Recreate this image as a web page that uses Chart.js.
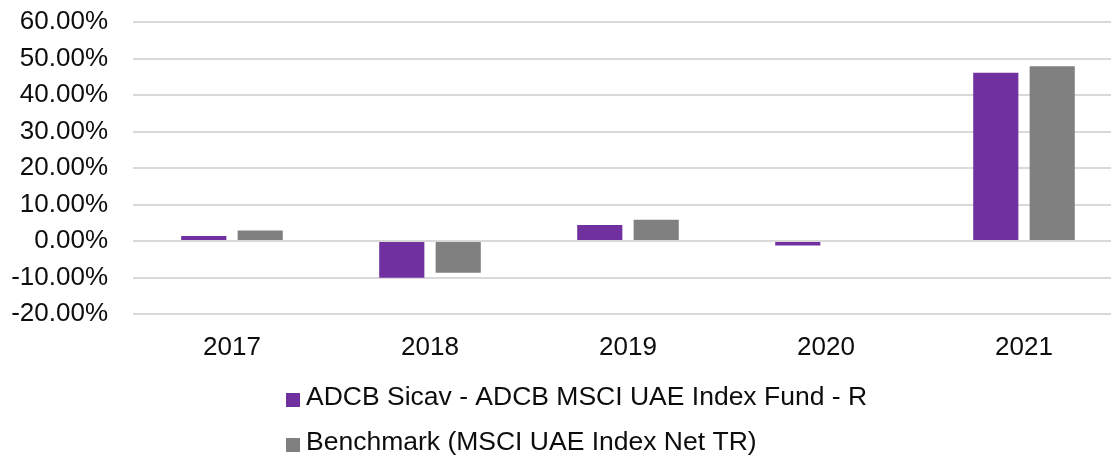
<!DOCTYPE html>
<html>
<head>
<meta charset="utf-8">
<script src="https://cdn.jsdelivr.net/npm/chart.js@4"></script>
<style>
  html, body { margin: 0; padding: 0; background: #fff; overflow: hidden; }
  #wrap { width: 1111px; height: 459px; overflow: hidden; }
</style>
</head>
<body>
<div id="wrap"><canvas id="returnsChart" width="1125" height="459"></canvas></div>
<script>
// Data
const years = ['2017', '2018', '2019', '2020', '2021'];
const fundReturns = [1.4, -10.1, 4.4, -1.2, 46.1];
const benchmarkReturns = [2.9, -8.7, 5.8, 0, 47.9];
const seriesNames = ['ADCB Sicav - ADCB MSCI UAE Index Fund - R', 'Benchmark (MSCI UAE Index Net TR)'];
const yTicks = [-20, -10, 0, 10, 20, 30, 40, 50, 60];

const FONT = "'Liberation Sans', Arial, sans-serif";
const textColor = '#0d0d0d';

// Stacked legend drawn below the axis (Excel style)
const stackedLegend = {
    id: 'stackedLegend',
    afterDraw(chart) {
        const ctx = chart.ctx;
        const x0 = 286;
        const rows = [397, 442];
        ctx.save();
        ctx.font = '26.5px ' + FONT;
        ctx.textBaseline = 'middle';
        chart.data.datasets.forEach((ds, i) => {
            const y = rows[i];
            ctx.fillStyle = ds.backgroundColor;
            ctx.fillRect(x0, y - 4, 14, 14);
            ctx.fillStyle = textColor;
            ctx.fillText(ds.label, x0 + 20, y + 1);
        });
        ctx.restore();
    }
};

const ctx = document.getElementById('returnsChart').getContext('2d');
new Chart(ctx, {
    type: 'bar',
    data: {
        labels: years,
        datasets: [
            { label: seriesNames[0], data: fundReturns, backgroundColor: '#7030A0' },
            { label: seriesNames[1], data: benchmarkReturns, backgroundColor: '#808080' }
        ]
    },
    options: {
        responsive: false,
        animation: false,
        devicePixelRatio: 1,
        layout: { padding: { top: 22, right: 2, bottom: 95, left: 0 } },
        datasets: {
            bar: { categoryPercentage: 0.57, barPercentage: 0.8 }
        },
        plugins: {
            legend: { display: false },
            tooltip: { enabled: false }
        },
        scales: {
            x: {
                grid: { display: false, drawTicks: false },
                border: { display: false },
                ticks: { color: textColor, font: { family: FONT, size: 26 }, padding: 18, maxRotation: 0 },
                afterFit(scale) { scale.height = 50; }
            },
            y: {
                min: yTicks[0],
                max: yTicks[yTicks.length - 1],
                afterBuildTicks(scale) { scale.ticks = yTicks.map(v => ({ value: v })); },
                grid: { color: '#d9d9d9', lineWidth: 2, drawTicks: false },
                border: { display: false },
                ticks: {
                    autoSkip: false,
                    color: textColor,
                    font: { family: FONT, size: 26 },
                    padding: 25,
                    callback: v => v.toFixed(2) + '%'
                },
                afterFit(scale) {
                    scale.width = 133;
                    scale.paddingTop = 0;
                    scale.paddingBottom = 0;
                }
            }
        }
    },
    plugins: [stackedLegend]
});
</script>
</body>
</html>
